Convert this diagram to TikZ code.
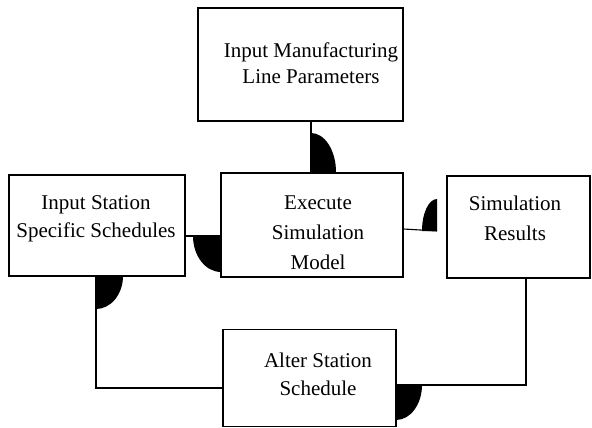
\documentclass[tikz,border=0pt]{standalone}
\usepackage{fontspec}
\setmainfont{Liberation Serif}
\usetikzlibrary{calc}
\begin{document}
\begin{tikzpicture}[x=1pt,y=-1pt,
  boxst/.style={draw,line width=1.2pt,inner sep=0pt},
  txt/.style={align=center,font=\fontsize{21}{27}\selectfont,inner sep=0pt},
  conn/.style={line width=1.1pt},
  headst/.style={fill=black}]
\useasboundingbox (0,0) rectangle (592,428);
% boxes
\node[boxst,minimum width=205pt,minimum height=113pt] (top) at (300.5,64.5) {};
\node[boxst,minimum width=182pt,minimum height=104pt] (exec) at (312,225) {};
\node[boxst,minimum width=176pt,minimum height=101pt] (iss) at (97,225.5) {};
\node[boxst,minimum width=143pt,minimum height=102pt] (res) at (518.5,227) {};
\node[boxst,minimum width=173pt,minimum height=97pt] (alt) at (309.5,378) {};
% texts
\node[txt,font=\fontsize{21}{26}\selectfont] (ttop) at (311,63) {Input Manufacturing\\Line Parameters};
\node[txt,font=\fontsize{21}{30}\selectfont] (texec) at (318,233) {Execute\\Simulation\\Model};
\node[txt,font=\fontsize{21}{28}\selectfont] (tiss) at (96,219) {Input Station\\Specific Schedules};
\node[txt,font=\fontsize{21}{30}\selectfont] (tres) at (515,218) {Simulation\\Results};
\node[txt,font=\fontsize{21}{28}\selectfont] (talt) at (318,374) {Alter Station\\Schedule};
% connector 1: top -> exec
\coordinate (c1) at (311,172);
\draw[conn] (top.south -| c1) -- (exec.north -| c1);
\fill[headst] (c1) -- (311,133) .. controls (324.8,133) and (336,150.5) .. (336,172) -- cycle;
% connector 2: iss -> exec
\coordinate (c2) at (221,236);
\draw[conn] (iss.east |- c2) -- (exec.west |- c2);
\fill[headst] (c2) -- (193,236) .. controls (193,255.9) and (205.5,272) .. (221,272) -- cycle;
% connector 3: exec -> res
\coordinate (c3) at (437,231);
\draw[conn] (exec.east |- 0,229) -- (c3);
\fill[headst] (c3) -- (422,231) .. controls (422,213.3) and (428.7,199) .. (437,199) -- cycle;
% connector 4: res -> alt
\coordinate (c4) at (396,385);
\coordinate (b4) at (526,385);
\draw[conn] (res.south -| b4) -- (b4) -- (alt.east |- b4);
\fill[headst] (c4) -- (396,420) .. controls (410.4,420) and (422,404.3) .. (422,385) -- cycle;
% connector 5: alt -> iss
\coordinate (c5) at (96,276);
\coordinate (b5) at (96,388);
\draw[conn] (alt.west |- b5) -- (b5) -- (iss.south -| b5);
\fill[headst] (c5) -- (123,276) .. controls (123,294.2) and (110.9,309) .. (96,309) -- cycle;
\end{tikzpicture}
\end{document}
